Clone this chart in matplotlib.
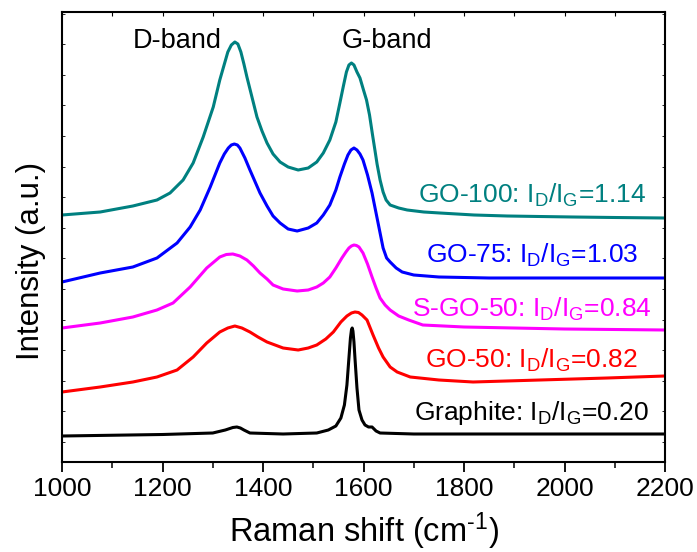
import numpy as np
import matplotlib
matplotlib.use("Agg")
import matplotlib.pyplot as plt
from matplotlib.ticker import MultipleLocator

plt.rcParams['font.family'] = ['Liberation Sans', 'DejaVu Sans']
plt.rcParams['mathtext.fontset'] = 'custom'
plt.rcParams['mathtext.rm'] = 'Liberation Sans'
plt.rcParams['mathtext.it'] = 'Liberation Sans'

# -------- espectros Raman (intensidad en u.a.) --------
x_go100 = [1000, 1076, 1141, 1189, 1215, 1241, 1261, 1281, 1301, 1314, 1322, 1330, 1337, 1344,
           1350, 1356, 1362, 1368, 1378, 1388, 1398, 1408, 1420, 1434, 1450, 1470, 1490, 1507,
           1520, 1533, 1545, 1553, 1560, 1566, 1571, 1576, 1581, 1587, 1593, 1600, 1606, 1612,
           1618, 1623, 1627, 1633, 1639, 1645, 1653, 1670, 1687, 1720, 1752, 1820, 1886, 1950,
           2017, 2100, 2200]
y_go100 = [247, 250, 256, 262, 269, 282, 299, 325, 355, 382, 396, 410, 417, 420,
           418, 410, 398, 385, 365, 345, 331, 319, 308, 300, 295, 292, 294, 300,
           309, 322, 340, 359, 376, 390, 397, 399, 397, 390, 384, 372, 362, 347,
           327, 311, 298, 282, 270, 262, 257, 254, 252, 250, 249, 247, 246, 245.5,
           245, 244.5, 244]

x_go75 = [1000, 1076, 1141, 1189, 1229, 1255, 1275, 1295, 1314, 1323, 1331, 1337, 1343, 1349,
          1354, 1364, 1374, 1394, 1408, 1420, 1434, 1450, 1468, 1490, 1507, 1520, 1533, 1545,
          1553, 1562, 1569, 1575, 1581, 1587, 1593, 1599, 1608, 1617, 1625, 1633, 1639, 1646,
          1653, 1665, 1677, 1700, 1750, 1850, 2000, 2200]
y_go75 = [180, 189, 195, 204, 219, 235, 252, 275, 299, 308, 314, 317, 318, 317,
          314, 304, 292, 269, 256, 246, 239, 233, 231, 234, 239, 247, 257, 272,
          285, 298, 307, 312, 314, 312, 308, 302, 287, 269, 249, 229, 214, 204,
          200, 194, 190, 187, 185, 184, 184, 184]

x_sgo50 = [1000, 1076, 1141, 1189, 1221, 1255, 1288, 1314, 1327, 1340, 1354, 1368, 1381, 1394,
           1408, 1420, 1440, 1468, 1490, 1507, 1520, 1533, 1545, 1557, 1565, 1571, 1576, 1581,
           1586, 1591, 1599, 1608, 1617, 1625, 1633, 1643, 1653, 1670, 1690, 1718, 1800, 1900,
           2000, 2200]
y_sgo50 = [134, 139, 145, 152, 159, 175, 194, 205, 207.5, 208, 206, 202, 196, 189,
           183, 177, 173, 171, 172, 175, 179, 185, 194, 204, 210, 214, 216, 217,
           216.5, 215, 209, 198, 185, 174, 164, 157, 152, 146, 142, 137, 135, 134,
           133, 132]

x_go50 = [1000, 1076, 1141, 1189, 1229, 1261, 1288, 1314, 1330, 1344, 1358, 1374, 1390, 1408,
          1440, 1470, 1490, 1507, 1525, 1540, 1555, 1567, 1576, 1583, 1590, 1597, 1607, 1619,
          1630, 1639, 1653, 1667, 1693, 1750, 1818, 1951, 2085, 2200]
y_go50 = [70, 75, 80, 85, 92, 105, 119, 130, 134, 136, 134, 130, 125, 120,
          114, 112, 114, 117, 123, 130, 140, 146, 149, 150, 149.5, 147, 142, 127,
          114, 105, 95, 90, 85, 82, 80, 82, 84, 86]

x_graf = [1000, 1200, 1300, 1325, 1340, 1348, 1355, 1362, 1374, 1440, 1507, 1530, 1545, 1555,
          1562, 1567, 1571, 1574, 1576, 1577.5, 1579, 1581, 1583, 1587, 1591, 1597, 1603, 1610,
          1617, 1625, 1633, 1700, 2200]
y_graf = [26, 27.5, 29, 32, 34.5, 35, 34, 32, 29, 28, 29, 32, 36, 44,
          57, 77, 104, 124, 132, 134, 131, 120, 104, 74, 52, 42, 37, 35,
          35, 31, 29, 28, 28]

# etiquetas (texto, color, altura de la linea base)
etiquetas = ["GO-100: $\\mathregular{I_D/I_G}$=1.14",
             "GO-75: $\\mathregular{I_D/I_G}$=1.03",
             "S-GO-50: $\\mathregular{I_D/I_G}$=0.84",
             "GO-50: $\\mathregular{I_D/I_G}$=0.82",
             "Graphite: $\\mathregular{I_D/I_G}$=0.20"]
y_etiq = [259, 199, 145, 94, 42]

curvas = [(x_go100, y_go100, '#008080'),
          (x_go75, y_go75, '#0000FF'),
          (x_sgo50, y_sgo50, '#FF00FF'),
          (x_go50, y_go50, '#FF0000'),
          (x_graf, y_graf, 'black')]

fig = plt.figure(figsize=(6.97, 5.52), dpi=100)
ax = fig.add_axes([62 / 697, 90 / 552, 603 / 697, 450 / 552])

for (xs, ys, c), txt, yt in zip(curvas, etiquetas, y_etiq):
    ax.plot(xs, ys, color=c, lw=2.2, solid_joinstyle='round')
    ax.text(1935, yt, txt, color=c, fontsize=19, ha='center', va='baseline')

ax.text(1229, 414, "D-band", fontsize=19.5, ha='center', va='baseline')
ax.text(1647, 414, "G-band", fontsize=19.5, ha='center', va='baseline')

ax.set_xlim(1000, 2200)
ax.set_ylim(0, 450)
ax.xaxis.set_major_locator(MultipleLocator(200))
ax.xaxis.set_minor_locator(MultipleLocator(100))
ax.set_yticks(np.arange(20, 450, 30.6))
ax.set_yticklabels([])

ax.tick_params(axis='x', which='major', direction='out', length=7, width=1.3,
               labelsize=19, pad=4, top=False)
ax.tick_params(axis='x', which='minor', direction='out', length=4, width=1.1, top=False)
ax.tick_params(axis='y', which='major', direction='in', length=2, width=0.6, right=True)
for s in ax.spines.values():
    s.set_linewidth(1.5)

# marcas superiores hacia adentro
ax_top = ax.secondary_xaxis('top')
ax_top.xaxis.set_major_locator(MultipleLocator(100))
ax_top.tick_params(direction='in', length=3, width=0.8, labeltop=False)
ax_top.spines['top'].set_visible(False)

ax.set_xlabel("Raman shift (cm$^{\\text{-1}}$)", fontsize=23.5, labelpad=7)
ax.set_ylabel("Intensity (a.u.)", fontsize=22.5)
ax.yaxis.set_label_coords(-0.027, 0.447)

plt.savefig("out.png", dpi=100)
